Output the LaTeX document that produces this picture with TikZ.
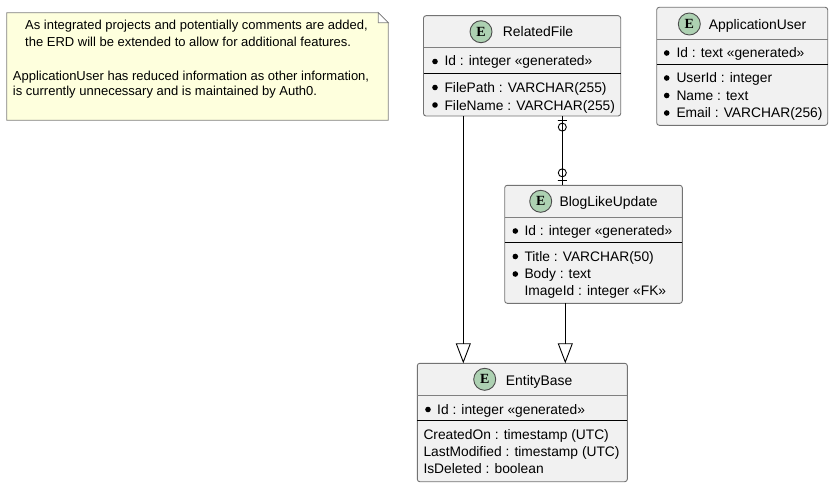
\documentclass[tikz,border=0pt]{standalone}
\usepackage{fontspec}
\setmainfont{Liberation Sans}
\newfontfamily\spotfont{Liberation Serif}
\usetikzlibrary{arrows.meta}
\definecolor{entityfill}{HTML}{F1F1F1}
\definecolor{spotfill}{HTML}{ADD1B2}
\definecolor{notefill}{HTML}{FEFFDD}
\tikzstyle{entity} = [rectangle, rounded corners=2.5pt, anchor=north west, inner sep=0pt, outer sep=0pt, draw=black!55, fill=entityfill, line width=0.9pt]
\tikzstyle{spot} = [circle, minimum size=22pt, inner sep=0pt, draw=black!70, fill=spotfill, line width=0.9pt, font=\spotfont\bfseries\fontsize{14}{14}\selectfont]
\tikzstyle{title} = [anchor=base west, inner sep=0pt, font=\fontsize{13.9}{16}\selectfont]
\tikzstyle{field} = [anchor=base west, inner sep=0pt, font=\fontsize{13.8}{16}\selectfont]
\tikzstyle{notetext} = [anchor=base west, inner sep=0pt, font=\fontsize{13}{14}\selectfont]
\tikzstyle{dot} = [circle, minimum size=5.6pt, inner sep=0pt, fill=black]
\tikzstyle{titleline} = [draw=black!50, line width=0.8pt]
\tikzstyle{sepline} = [draw=black, line width=0.8pt]
\tikzstyle{notebox} = [draw=black!50, fill=notefill, line width=0.8pt]
\tikzstyle{arrow} = [line width=0.9pt, -{Triangle[open, length=20pt, width=15pt, line width=0.9pt]}]
\tikzstyle{link} = [line width=0.9pt]
\tikzstyle{cardcirc} = [circle, draw=black, minimum size=8pt, inner sep=0pt, line width=0.9pt]
\tikzstyle{cardbar} = [rectangle, draw=black, minimum width=9pt, minimum height=0pt, inner sep=0pt, line width=0.9pt]
\begin{document}
\begin{tikzpicture}[x=1pt, y=-1pt]
    \useasboundingbox (0,0) rectangle (834,487);

    % note
    \draw [notebox] (6.7,12.7) -- (378.3,12.7) -- (388.3,22.7) -- (388.3,120.3) -- (6.7,120.3) -- cycle;
    \draw [notebox, fill=white] (378.3,12.7) -- (378.3,22.7) -- (388.3,22.7) -- cycle;
    \node (noteA) [notetext] at (25,30) {As integrated projects and potentially comments are added,};
    \node (noteB) [notetext] at (25,46.7) {the ERD will be extended to allow for additional features.};
    \node (noteC) [notetext] at (12.7,80) {ApplicationUser has reduced information as other information,};
    \node (noteD) [notetext] at (12.7,95.5) {is currently unnecessary and is maintained by Auth0.};

    % entities
    \node (related) [entity, minimum width=197.2pt, minimum height=100.3pt] at (423.5,15.7) {};
    \node (user) [entity, minimum width=171pt, minimum height=118pt] at (656.7,7.3) {};
    \node (blog) [entity, minimum width=177.6pt, minimum height=118pt] at (504.7,185.3) {};
    \node (base) [entity, minimum width=210pt, minimum height=118.4pt] at (417.3,363.3) {};

    \draw [titleline] (related.west |- 0,47.3) -- (related.east |- 0,47.3);
    \draw [sepline] (related.west |- 0,73.3) -- (related.east |- 0,73.3);
    \draw [titleline] (user.west |- 0,39.3) -- (user.east |- 0,39.3);
    \draw [sepline] (user.west |- 0,64) -- (user.east |- 0,64);
    \draw [titleline] (blog.west |- 0,217) -- (blog.east |- 0,217);
    \draw [sepline] (blog.west |- 0,242.3) -- (blog.east |- 0,242.3);
    \draw [titleline] (base.west |- 0,395.3) -- (base.east |- 0,395.3);
    \draw [sepline] (base.west |- 0,420.3) -- (base.east |- 0,420.3);

    % RelatedFile
    \node (relatedspot) [spot] at (481,31.7) {E};
    \node (relatedtitle) [title] at (502.7,36.7) {RelatedFile};
    \node (relateddotA) [dot] at (435,61.5) {};
    \node (relateddotB) [dot] at (435,87.5) {};
    \node (relateddotC) [dot] at (435,105) {};
    \node (relatedA) [field] at (444.3,66) {Id : integer «generated»};
    \node (relatedB) [field] at (444.3,92.7) {FilePath : VARCHAR(255)};
    \node (relatedC) [field] at (444.3,110) {FileName : VARCHAR(255)};

    % ApplicationUser
    \node (userspot) [spot] at (689.3,24) {E};
    \node (usertitle) [title] at (708.7,29.3) {ApplicationUser};
    \node (userdotA) [dot] at (666.7,53) {};
    \node (userdotB) [dot] at (666.7,78) {};
    \node (userdotC) [dot] at (666.7,95.5) {};
    \node (userdotD) [dot] at (666.7,113) {};
    \node (userA) [field] at (676.3,57.7) {Id : text «generated»};
    \node (userB) [field] at (676.3,82.3) {UserId : integer};
    \node (userC) [field] at (676.3,100) {Name : text};
    \node (userD) [field] at (676.3,117.3) {Email : VARCHAR(256)};

    % BlogLikeUpdate
    \node (blogspot) [spot] at (540.7,201.3) {E};
    \node (blogtitle) [title] at (559.3,206.7) {BlogLikeUpdate};
    \node (blogdotA) [dot] at (515.3,231) {};
    \node (blogdotB) [dot] at (515.3,256.5) {};
    \node (blogdotC) [dot] at (515.3,274) {};
    \node (blogA) [field] at (524.3,235.7) {Id : integer «generated»};
    \node (blogB) [field] at (524.3,261) {Title : VARCHAR(50)};
    \node (blogC) [field] at (524.3,278.7) {Body : text};
    \node (blogD) [field] at (524.3,295.7) {ImageId : integer «FK»};

    % EntityBase
    \node (basespot) [spot] at (484.7,379.3) {E};
    \node (basetitle) [title] at (505.7,385) {EntityBase};
    \node (basedot) [dot] at (428,409.5) {};
    \node (baseA) [field] at (437,414) {Id : integer «generated»};
    \node (baseB) [field] at (423.3,439) {CreatedOn : timestamp (UTC)};
    \node (baseC) [field] at (423.3,456.7) {LastModified : timestamp (UTC)};
    \node (baseD) [field] at (423.3,473.7) {IsDeleted : boolean};

    % connectors
    \coordinate (relatedoutA) at (463.3,116);
    \coordinate (relatedoutB) at (562.3,116);
    \coordinate (blogin) at (562.3,185.3);
    \coordinate (blogout) at (565.3,303.3);
    \coordinate (baseinA) at (463.3,363.3);
    \coordinate (baseinB) at (565.3,363.3);

    \draw [arrow] (relatedoutA) -- (baseinA);
    \draw [arrow] (blogout) -- (baseinB);
    \draw [link] (relatedoutB) -- node[cardbar, pos=0.06]{} node[cardcirc, pos=0.16]{} node[cardcirc, pos=0.82]{} node[cardbar, pos=0.93]{} (blogin);
\end{tikzpicture}
\end{document}
